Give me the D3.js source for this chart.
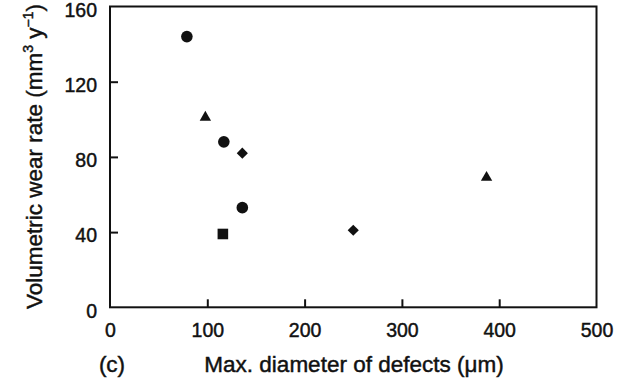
<!DOCTYPE html>
<html>
<head>
<meta charset="utf-8">
<script src="https://cdn.jsdelivr.net/npm/d3@7"></script>
<style>
	body { margin: 0; background: #fff; }
	text { font-family: "Liberation Sans", Arial, sans-serif; fill: #111; stroke: #111; stroke-width: 0.45px; }
</style>
</head>
<body>
<svg width="627" height="392"></svg>
<script>
// values
var circleX = [79, 117, 136];
var circleY = [144, 88, 53];
var triangleX = [98, 387];
var triangleY = [101, 69];
var diamondX = [136, 250];
var diamondY = [82, 41];
var squareX = [116];
var squareY = [39];

var xTicks = [0, 100, 200, 300, 400, 500];
var yTicks = [0, 40, 80, 120, 160];

var svg = d3.select('svg');
var plotL = 110, plotR = 596.5, plotT = 6.5, plotB = 307.3;

var x = d3.scaleLinear().domain([0, 500]).range([plotL, plotR]);
var y = d3.scaleLinear().domain([0, 160]).range([plotB, plotT]);

// frame
svg.append('rect')
	.attr('x', plotL).attr('y', plotT)
	.attr('width', plotR - plotL).attr('height', plotB - plotT)
	.attr('fill', 'none').attr('stroke', '#111').attr('stroke-width', 2);

// inward ticks
var xAxis = d3.axisBottom(x).tickValues(xTicks).tickSize(-8).tickPadding(16).tickFormat(d3.format('d'));
var gx = svg.append('g').attr('transform', 'translate(0,' + plotB + ')').call(xAxis);
var yAxis = d3.axisLeft(y).tickValues(yTicks).tickSize(-8).tickPadding(13).tickFormat(d3.format('d'));
var gy = svg.append('g').attr('transform', 'translate(' + plotL + ',0)').call(yAxis);

[gx, gy].forEach(function(g){
	g.select('.domain').remove();
	g.selectAll('line').attr('stroke', '#111').attr('stroke-width', 2)
		.style('display', function(d){ return (d == 0 || d == 500 || d == 160) ? 'none' : null });
	g.selectAll('text').style('font-size', '19.5px').attr('fill', '#111')
		.style('font-family', '"Liberation Sans", Arial, sans-serif');
});
gy.selectAll('text').attr('dy', '0.5em');

function toPts(xs, ys){
	return xs.map(function(v, i){ return [v, ys[i]] });
}

var plot = svg.append('g');

plot.selectAll('circle')
	.data(toPts(circleX, circleY))
	.enter().append('circle')
		.attr('cx', function(d){ return x(d[0]) })
		.attr('cy', function(d){ return y(d[1]) })
		.attr('r', 5.8)
		.attr('fill', '#111');

// [points, symbol, size, rotation]
var sym = [
	[toPts(triangleX, triangleY), d3.symbolTriangle, 56, 0],
	[toPts(diamondX, diamondY), d3.symbolSquare, 62, 45],
	[toPts(squareX, squareY), d3.symbolSquare, 112, 0]
];
sym.forEach(function(s){
	plot.append('g').selectAll('path')
		.data(s[0])
		.enter().append('path')
			.attr('d', d3.symbol().type(s[1]).size(s[2]))
			.attr('transform', function(d){ return 'translate(' + x(d[0]) + ',' + y(d[1]) + ') rotate(' + s[3] + ')' })
			.attr('fill', '#111');
});

// titles
svg.append('text')
	.attr('transform', 'translate(42,' + 156.5 + ') rotate(-90)')
	.attr('text-anchor', 'middle')
	.style('font-size', '22.5px')
	.html('Volumetric wear rate (mm<tspan dy="-9" font-size="14px">3</tspan><tspan dy="9"> y</tspan><tspan dy="-9" font-size="14px">\u22121</tspan><tspan dy="9">)</tspan>');

svg.append('text')
	.attr('x', 354).attr('y', 372)
	.attr('text-anchor', 'middle')
	.style('font-size', '22.5px')
	.text('Max. diameter of defects (\u03bcm)');

svg.append('text')
	.attr('x', 112).attr('y', 372)
	.attr('text-anchor', 'middle')
	.style('font-size', '22.5px')
	.text('(c)');
</script>
</body>
</html>
